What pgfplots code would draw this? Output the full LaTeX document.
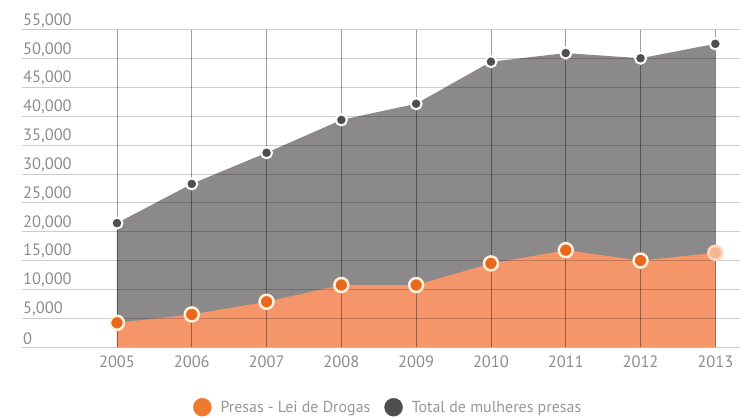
\documentclass[border=0pt]{standalone}
\usepackage{fontspec}
\setmainfont{PT Sans}
\usepackage{pgfplots}
\pgfplotsset{compat=1.18}
\usetikzlibrary{calc}

\definecolor{areagray}{HTML}{8B898A}
\definecolor{dotgray}{HTML}{4F4F51}
\definecolor{areaorange}{HTML}{F4956A}
\definecolor{dotorange}{HTML}{E8691E}
\definecolor{ringorange}{HTML}{FFF0DC}
\definecolor{fadeorange}{HTML}{F8B48F}
\definecolor{tickgray}{HTML}{8C8C8C}
\definecolor{legorange}{HTML}{EE7A2F}

\begin{document}
\begin{tikzpicture}
\begin{axis}[
    name=ax,
    set layers,
    scale only axis,
    width=718bp,
    height=317bp,
    xmin=2003.73, xmax=2013.33,
    ymin=0, ymax=55000,
    xtick={2005,2006,...,2013},
    ytick={0,5000,...,55000},
    scaled y ticks=false,
    axis line style={draw=none},
    major tick length=0pt,
    xmajorgrids, ymajorgrids,
    x grid style={black, opacity=0.38, line width=0.6bp},
    y grid style={black, opacity=0.2, line width=1bp},
    /pgf/number format/assume math mode=true,
    ticklabel style={font=\fontsize{16.5}{18}\selectfont, text=tickgray},
    yticklabel style={anchor=south west, inner sep=1bp, yshift=1bp,
        /pgf/number format/1000 sep={,}},
    xticklabel style={yshift=-5bp, /pgf/number format/1000 sep={}},
    legend style={at={(0.51,-0.19)}, anchor=center, draw=none, fill=none,
        legend columns=2, font=\fontsize{16}{18}\selectfont, text=tickgray!90!white,
        /tikz/every odd column/.append style={column sep=7bp},
        /tikz/every even column/.append style={column sep=12bp}},
]

% total de mulheres presas
\addplot[on layer=axis background, fill=areagray, draw=none, forget plot]
    coordinates {(2005,21500) (2006,28300) (2007,33700) (2008,39400)
                 (2009,42200) (2010,49500) (2011,51000) (2012,50100)
                 (2013,52600)} \closedcycle;

% presas - lei de drogas
\addplot[on layer=axis background, fill=areaorange, draw=none, forget plot]
    coordinates {(2005,4200) (2006,5650) (2007,7850) (2008,10750)
                 (2009,10750) (2010,14500) (2011,16800) (2012,15000)
                 (2013,16350)} \closedcycle;

\addplot[only marks, mark=*, mark size=7bp,
    mark options={fill=dotorange, draw=ringorange, line width=2.5bp},
    legend image code/.code={\fill[legorange] (0bp,0bp) circle (9bp);}]
    coordinates {(2005,4200) (2006,5650) (2007,7850) (2008,10750)
                 (2009,10750) (2010,14500) (2011,16800) (2012,15000)};
\addlegendentry{Presas - Lei de Drogas}

\addplot[only marks, mark=*, mark size=7bp, forget plot,
    mark options={fill=fadeorange, draw=fadeorange!55!white, line width=2.5bp}]
    coordinates {(2013,16350)};

\addplot[only marks, mark=*, mark size=5.5bp,
    mark options={fill=dotgray, draw=white, line width=2bp},
    legend image code/.code={\fill[dotgray] (0bp,0bp) circle (9bp);}]
    coordinates {(2005,21500) (2006,28300) (2007,33700) (2008,39400)
                 (2009,42200) (2010,49500) (2011,51000) (2012,50100)
                 (2013,52600)};
\addlegendentry{Total de mulheres presas}

\end{axis}
\pgfresetboundingbox
\path ($(ax.south west)+(-22bp,-71bp)$) rectangle ($(ax.north east)+(8bp,30bp)$);
\end{tikzpicture}
\end{document}
